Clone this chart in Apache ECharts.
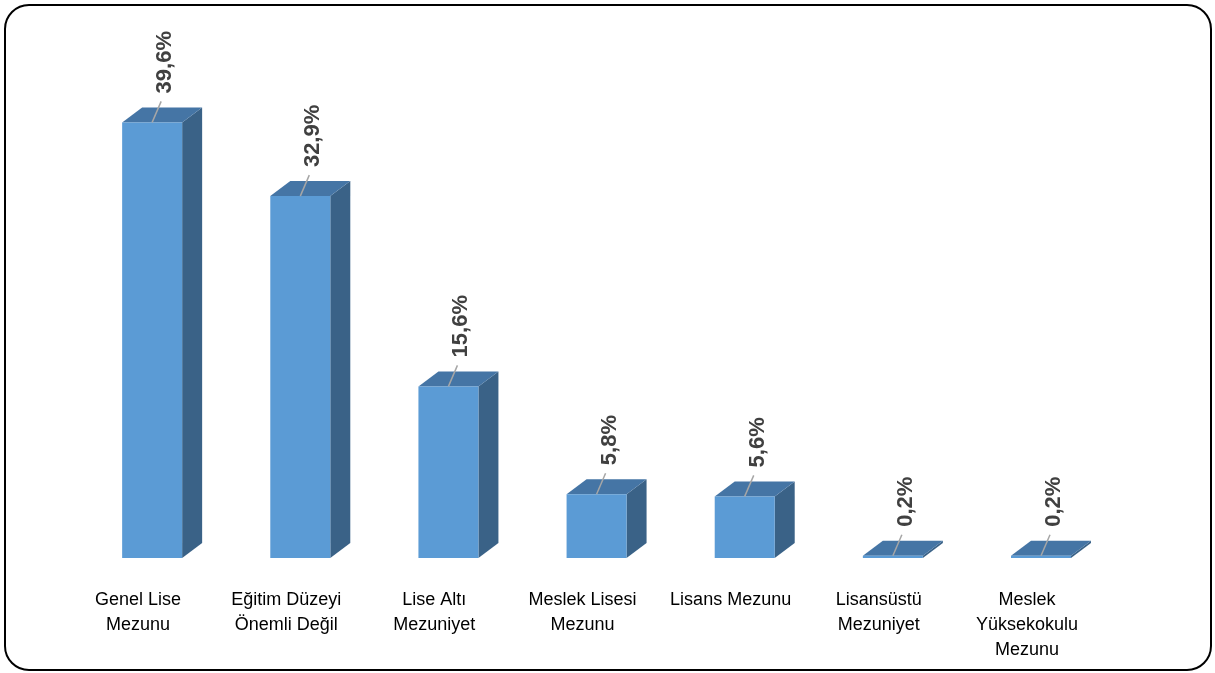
<!DOCTYPE html>
<html>
<head>
<meta charset="utf-8">
<script src="https://cdn.jsdelivr.net/npm/echarts@6/dist/echarts.min.js"></script>
<style>
html,body{margin:0;padding:0;background:#fff;}
#chart{width:1215px;height:673px;}
</style>
</head>
<body>
<div id="chart"></div>
<script>
const categories = ['Genel Lise Mezunu', 'Eğitim Düzeyi Önemli Değil', 'Lise Altı Mezuniyet', 'Meslek Lisesi Mezunu', 'Lisans Mezunu', 'Lisansüstü Mezuniyet', 'Meslek Yüksekokulu Mezunu'];
const tickLabels = ['Genel Lise\nMezunu', 'Eğitim Düzeyi\nÖnemli Değil', 'Lise Altı\nMezuniyet', 'Meslek Lisesi\nMezunu', 'Lisans Mezunu', 'Lisansüstü\nMezuniyet', 'Meslek\nYüksekokulu\nMezunu'];
const values = [39.6, 32.9, 15.6, 5.8, 5.6, 0.2, 0.2];

const chart = echarts.init(document.getElementById('chart'));

function fmt(v) { return v.toFixed(1).replace('.', ',') + '%'; }

const option = {
  backgroundColor: '#fff',
  animation: false,
  graphic: [{
    type: 'rect',
    shape: { x: 5, y: 5, width: 1206, height: 665, r: 24 },
    style: { fill: 'none', stroke: '#000', lineWidth: 2 },
    z: 100
  }],
  grid: { left: 64, right: 114, top: 118, bottom: 115, containLabel: false },
  xAxis: {
    type: 'category',
    data: categories,
    axisLine: { show: false },
    axisTick: { show: false },
    axisLabel: {
      interval: 0,
      margin: 30,
      fontFamily: 'Liberation Sans',
      fontSize: 18,
      lineHeight: 25,
      color: '#000',
      formatter: (v, i) => tickLabels[i]
    }
  },
  yAxis: {
    type: 'value',
    min: 0,
    max: 40,
    show: false,
    splitLine: { show: false }
  },
  series: [{
    type: 'custom',
    data: values.map((v, i) => [i, v]),
    encode: { x: 0, y: 1 },
    renderItem: function (params, api) {
      const v = api.value(1);
      const top = api.coord([api.value(0), v]);
      const base = api.coord([api.value(0), 0]);
      const band = api.size([1, 0])[0];
      const w = band * 0.405;
      const dx = band * 0.135;
      const dy = 15;
      const cx = top[0] + band * 0.095;
      const x0 = cx - w / 2, x1 = cx + w / 2;
      const yt = top[1], yb = base[1];
      const front = '#5B9BD5', topC = '#4575A5', side = '#3A6287';
      const lx = cx + 9, ly = yt - 21;
      return {
        type: 'group',
        children: [
          { type: 'polygon', shape: { points: [[x1, yt], [x1 + dx, yt - dy], [x1 + dx, yb - dy], [x1, yb]] }, style: { fill: side } },
          { type: 'polygon', shape: { points: [[x0, yt], [x0 + dx, yt - dy], [x1 + dx, yt - dy], [x1, yt]] }, style: { fill: topC } },
          { type: 'rect', shape: { x: x0, y: yt, width: w, height: Math.max(yb - yt, 1.5) }, style: { fill: front } },
          { type: 'line', shape: { x1: cx, y1: yt, x2: lx, y2: ly }, style: { stroke: '#a6a6a6', lineWidth: 1.5 } },
          { type: 'text', x: lx + 4, y: ly - 8, rotation: Math.PI / 2,
            style: { text: fmt(v), fill: '#404040', font: 'bold 22px "Liberation Sans"', align: 'left', verticalAlign: 'middle' } }
        ]
      };
    }
  }]
};
chart.setOption(option);
</script>
</body>
</html>
